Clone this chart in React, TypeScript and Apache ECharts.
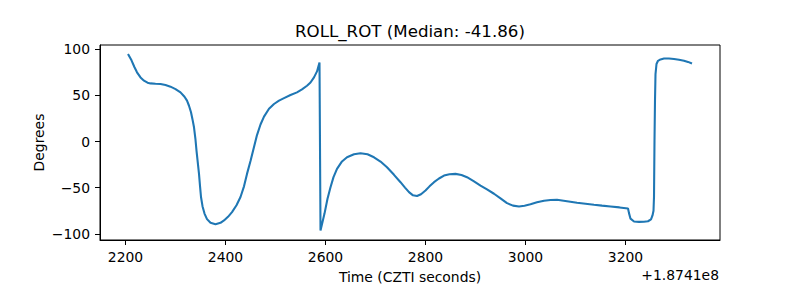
import React, { useEffect, useRef } from "react";
import * as echarts from "echarts";

const times = [
  2205, 2212, 2218, 2223, 2230, 2237, 2244, 2250, 2260, 2270, 2280, 2290, 2300, 2310, 2318, 2323, 2327,
  2331, 2334, 2337, 2340, 2342, 2345, 2347, 2349, 2351, 2354, 2358, 2363, 2370, 2380, 2390, 2397, 2405,
  2413, 2422, 2430, 2437, 2443, 2450, 2457, 2463, 2470, 2477, 2487, 2497, 2507, 2517, 2530, 2543, 2553,
  2563, 2570, 2577, 2583, 2588, 2590, 2594, 2598, 2604, 2610, 2616, 2623, 2633, 2643, 2657, 2670, 2684,
  2697, 2710, 2723, 2737, 2750, 2759, 2767, 2775, 2783, 2791, 2800, 2808, 2817, 2827, 2837, 2848, 2860,
  2872, 2883, 2897, 2910, 2923, 2937, 2950, 2963, 2975, 2987, 2998, 3010, 3023, 3037, 3050, 3063, 3083,
  3103, 3120, 3137, 3153, 3170, 3188, 3205, 3207, 3210, 3217, 3227, 3237, 3245, 3251, 3254, 3256, 3257,
  3258, 3259, 3260, 3262, 3265, 3270, 3277, 3287, 3297, 3307, 3317, 3325, 3333,
];

const rollRot = [
  94.8, 88, 80.5, 75, 69.5, 66, 63.8, 63, 62.6, 62.4, 61.3, 59.5, 56.8, 53.3, 48.5, 44.3, 38.8,
  31.7, 24, 15.5, 2, -9.7, -25, -35, -48, -60, -70, -78, -84, -88, -89.5, -88, -85.4, -81.5,
  -76.4, -69, -60, -48.5, -35, -21, -6, 7, 18.5, 27, 35.5, 40.7, 44.3, 47, 50.4, 53.3, 56.5,
  60.5, 64, 69.5, 76, 85.7, -96.2, -87, -78, -62, -49.4, -38.5, -29.5, -21.5, -17, -13.8, -12.6, -13.8,
  -17, -21.6, -27.8, -36, -44, -49.8, -54.8, -58.2, -59, -57, -53, -48.5, -44, -40, -36.8, -35.3, -35,
  -36.2, -38.6, -43, -47.6, -51.8, -56.5, -61.5, -66.7, -69.4, -70.3, -69.6, -68, -65.8, -64, -63.2, -63, -64.6,
  -66.3, -67.4, -68.5, -69.4, -70.3, -71.3, -72.4, -77.5, -83.5, -86.5, -87, -86.8, -86.3, -84.3, -80, -75, -60,
  1, 45, 73, 84, 87.5, 89, 90, 89.9, 89.4, 88.6, 87.6, 86.3, 84.6,
];

const xTicks = [2200, 2400, 2600, 2800, 3000, 3200];
const yTicks = [-100, -50, 0, 50, 100];

const titleText = "ROLL_ROT (Median: -41.86)";
const xLabel = "Time (CZTI seconds)";
const yLabel = "Degrees";
const offsetText = "+1.8741e8";

const FONT = "DejaVu Sans";

export default function App() {
  const ref = useRef<HTMLDivElement>(null);
  useEffect(() => {
    if (!ref.current) return;
    const chart = echarts.init(ref.current, undefined, { renderer: "svg" });
    const data = times.map((t, i) => [t, rollRot[i]]);
    chart.setOption({
      animation: false,
      backgroundColor: "#ffffff",
      grid: {
        left: 100,
        right: 80,
        top: 45,
        bottom: 60,
        show: true,
        borderColor: "#000000",
        borderWidth: 1,
        backgroundColor: "transparent",
        containLabel: false,
      },
      xAxis: {
        type: "value",
        min: 2149,
        max: 3389,
        splitLine: { show: false },
        axisLine: { show: true, onZero: false, lineStyle: { color: "#000", width: 1 } },
        axisTick: {
          show: true,
          inside: false,
          length: 5,
          lineStyle: { color: "#000", width: 1 },
          customValues: xTicks,
        },
        axisLabel: {
          show: true,
          margin: 10,
          color: "#000",
          fontFamily: FONT,
          fontSize: 13.9,
          customValues: xTicks,
          formatter: (v: number) => String(v),
        },
      },
      yAxis: {
        type: "value",
        min: -106.6,
        max: 104.6,
        splitLine: { show: false },
        axisLine: { show: true, onZero: false, lineStyle: { color: "#000", width: 1 } },
        axisTick: {
          show: true,
          inside: false,
          length: 5,
          lineStyle: { color: "#000", width: 1 },
          customValues: yTicks,
        },
        axisLabel: {
          show: true,
          margin: 10,
          color: "#000",
          fontFamily: FONT,
          fontSize: 13.9,
          customValues: yTicks,
          formatter: (v: number) => String(v).replace("-", "\u2212"),
        },
      },
      series: [
        {
          type: "line",
          data,
          showSymbol: false,
          symbol: "none",
          lineStyle: { color: "#1f77b4", width: 2.08 },
          z: 1,
        },
      ],
      graphic: [
        {
          type: "text",
          x: 410,
          y: 31,
          style: {
            text: titleText,
            fontFamily: FONT,
            fontSize: 16.67,
            fill: "#000",
            textAlign: "center",
            textVerticalAlign: "middle",
          },
        },
        {
          type: "text",
          x: 410,
          y: 277,
          style: {
            text: xLabel,
            fontFamily: FONT,
            fontSize: 13.9,
            fill: "#000",
            textAlign: "center",
            textVerticalAlign: "middle",
          },
        },
        {
          type: "text",
          x: 719,
          y: 275,
          style: {
            text: offsetText,
            fontFamily: FONT,
            fontSize: 13.9,
            fill: "#000",
            textAlign: "right",
            textVerticalAlign: "middle",
          },
        },
        {
          type: "text",
          x: 39,
          y: 142.5,
          rotation: Math.PI / 2,
          style: {
            text: yLabel,
            fontFamily: FONT,
            fontSize: 13.9,
            fill: "#000",
            textAlign: "center",
            textVerticalAlign: "middle",
          },
        },
      ],
    });
    return () => chart.dispose();
  }, []);
  return <div ref={ref} style={{ width: 800, height: 300, position: "absolute", left: 0, top: 0 }} />;
}
